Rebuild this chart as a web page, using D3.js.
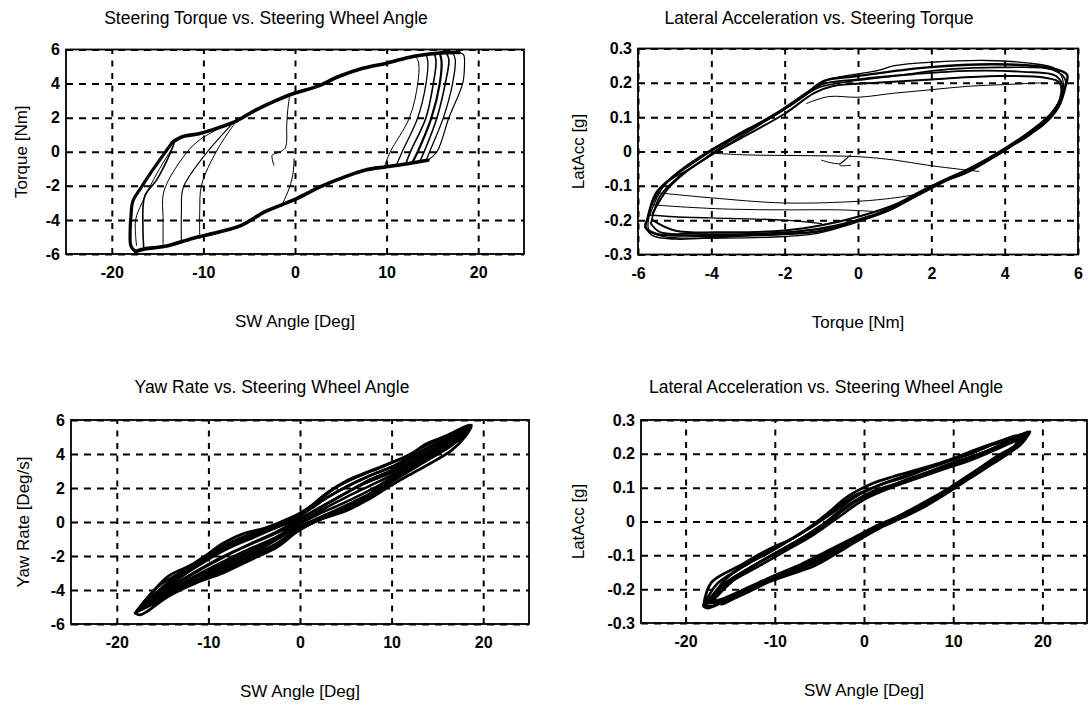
<!DOCTYPE html>
<html>
<head>
<meta charset="utf-8">
<script src="https://cdn.jsdelivr.net/npm/d3@7"></script>
<style>
  body { margin: 0; background: #fff; }
  svg { display: block; }
  text { font-family: "Liberation Sans", Arial, sans-serif; fill: #000; }
</style>
</head>
<body>
<svg id="fig" width="1092" height="709"></svg>
<script>
// ---- ticks ----
const angleTicks = [-20, -10, 0, 10, 20];
const angleTickLabels = ['-20', '-10', '0', '10', '20'];
const torqueTicks = [-6, -4, -2, 0, 2, 4, 6];
const torqueTickLabels = ['-6', '-4', '-2', '0', '2', '4', '6'];
const yawTicks = [-6, -4, -2, 0, 2, 4, 6];
const yawTickLabels = ['-6', '-4', '-2', '0', '2', '4', '6'];
const accTicks = [-0.3, -0.2, -0.1, 0, 0.1, 0.2, 0.3];
const accTickLabels = ['-0.3', '-0.2', '-0.1', '0', '0.1', '0.2', '0.3'];

// ---- panel 1: torque vs SW angle ----
const torqueUpper = [[-13.4,0.55],[-12.3,0.88],[-10.4,1.07],[-8.1,1.46],[-6.6,1.75],[-4.3,2.44],[-2.1,3.0],[0,3.45],[2.5,3.85],[4.7,4.4],[7.4,4.9],[10,5.2],[13,5.6],[16,5.8],[17.9,5.82]];
const torqueLeft = [[-13.4,0.55],[-14,0.1],[-15.7,-1.2],[-16.8,-2.1],[-17.7,-2.9],[-17.9,-3.7],[-18,-4.7],[-17.9,-5.55],[-17.4,-5.85]];
const torqueLower = [[-17.4,-5.85],[-16.4,-5.7],[-14.2,-5.55],[-11.1,-5.07],[-8.1,-4.68],[-5.8,-4.3],[-3.2,-3.5],[0,-2.8],[2.8,-2.05],[5.5,-1.46],[7.7,-1.07],[10,-0.88],[12.3,-0.7],[14.5,-0.5]];
const torqueRight1 = [[13.2,5.6],[13.5,5.2],[13.4,4],[12.5,2],[10.4,0],[9.8,-0.8]];
const torqueRight2 = [[14.3,5.72],[14.5,5.3],[14.3,4],[13.4,2],[11.7,0],[11.1,-0.75]];
const torqueRight3 = [[15.2,5.78],[15.4,5.3],[15.1,4],[14.3,2],[12.6,0],[12.1,-0.7]];
const torqueRight4 = [[15.8,5.8],[16.0,5.3],[15.8,4],[14.9,2],[13.4,0],[12.8,-0.65]];
const torqueRight5 = [[16.5,5.82],[16.8,5.4],[16.4,4],[15.5,2],[14.1,0],[13.6,-0.6]];
const torqueRight6 = [[17.2,5.84],[17.5,5.4],[17.2,4],[16.2,2],[14.7,0],[14.3,-0.55]];
const torqueRight7 = [[17.9,5.82],[18.4,5.7],[18.5,5.0],[18.3,4],[16.8,2],[15.5,0],[14.5,-0.5]];
const torqueLeft1 = [[-16.5,-5.72],[-16.6,-4.5],[-16.4,-2.6],[-15.1,-1.65],[-13.8,-0.3],[-13.2,0.5]];
const torqueLeft2 = [[-14.4,-5.58],[-14.4,-4],[-14.3,-2.3],[-11.9,-0.1],[-10.4,0.7],[-7.8,1.5]];
const torqueLeft3 = [[-12.4,-5.35],[-12.4,-3.5],[-12.2,-2.1],[-10,-0.3],[-6.7,1.72]];
const torqueLeft4 = [[-10.4,-5.1],[-10.4,-3.5],[-10.2,-1.95],[-8.5,0.1],[-6.4,1.8]];
const torqueLeft5 = [[-17.3,-5.5],[-17.4,-4],[-16.7,-3.0],[-15,-1.2],[-13.3,0.3]];
const torqueOdd1 = [[-0.6,3.25],[-0.8,2.4],[-0.9,1.6],[-1.1,0.2],[-2.1,-0.1],[-2.5,-0.2],[-2.3,-0.8]];
const torqueOdd2 = [[-0.1,-0.4],[-0.2,-1.2],[-0.6,-2.1],[-1.5,-3.2]];

// ---- panel 2: lateral acceleration vs torque ----
const latLoop1 = [[-5.75,-0.2],[-5.5,-0.12],[-5.0,-0.07],[-4.6,-0.04],[-3.96,0.005],[-3.2,0.054],[-2.36,0.10],[-1.5,0.16],[-0.94,0.205],[0,0.22],[1.9,0.245],[3.77,0.254],[5.2,0.244],[5.7,0.224],[5.66,0.19],[5.47,0.13],[5.0,0.073],[4.4,0.034],[3.96,0],[2.83,-0.063],[1.9,-0.11],[0.94,-0.166],[0,-0.2],[-0.94,-0.23],[-1.9,-0.24],[-3.3,-0.245],[-4.7,-0.245],[-5.5,-0.24],[-5.8,-0.22],[-5.75,-0.2]];
const latLoop2 = [[-5.6,-0.18],[-5.2,-0.11],[-4.7,-0.06],[-4.0,-0.01],[-3.0,0.05],[-2.0,0.11],[-1.2,0.17],[-0.7,0.19],[0.5,0.2],[2,0.21],[3.8,0.22],[5.1,0.215],[5.5,0.2],[5.5,0.15],[5.2,0.1],[4.7,0.05],[4.1,0.01],[3.0,-0.06],[2.0,-0.1],[1.0,-0.155],[0,-0.19],[-1.0,-0.215],[-2.0,-0.23],[-3.5,-0.235],[-5.0,-0.23],[-5.6,-0.2]];
const latLoop3 = [[-5.7,-0.19],[-5.3,-0.1],[-4.8,-0.05],[-4.1,0.0],[-3.1,0.06],[-2.2,0.115],[-1.3,0.18],[-0.8,0.21],[0.5,0.235],[1.0,0.25],[2,0.26],[3.5,0.265],[4.6,0.258],[5.4,0.24],[5.6,0.2],[5.45,0.14],[5.1,0.09],[4.5,0.04],[3.8,-0.005],[2.7,-0.07],[1.8,-0.115],[0.9,-0.17],[0,-0.205],[-1.2,-0.24],[-2.5,-0.25],[-4.0,-0.252],[-5.3,-0.248],[-5.7,-0.23],[-5.7,-0.19]];
const latLoop4 = [[-5.65,-0.21],[-5.4,-0.13],[-4.9,-0.075],[-4.3,-0.03],[-3.5,0.03],[-2.6,0.085],[-1.7,0.145],[-1.0,0.195],[0,0.21],[1.5,0.225],[3,0.235],[4.5,0.232],[5.4,0.22],[5.6,0.18],[5.35,0.12],[4.8,0.065],[4.2,0.02],[3.4,-0.03],[2.4,-0.085],[1.4,-0.14],[0.4,-0.185],[-0.6,-0.215],[-1.6,-0.232],[-3,-0.24],[-4.5,-0.24],[-5.4,-0.235],[-5.65,-0.21]];
const latLoop5 = [[-5.8,-0.22],[-5.6,-0.15],[-5.2,-0.09],[-4.5,-0.045],[-3.7,0.01],[-2.8,0.07],[-1.9,0.13],[-1.1,0.185],[-0.5,0.2],[1,0.22],[2.5,0.24],[4,0.245],[5.3,0.238],[5.65,0.21],[5.55,0.16],[5.25,0.11],[4.7,0.06],[4.0,0.01],[3.1,-0.045],[2.1,-0.095],[1.2,-0.15],[0.2,-0.195],[-0.8,-0.222],[-2.2,-0.238],[-3.8,-0.25],[-5.0,-0.255],[-5.6,-0.245],[-5.8,-0.22]];
const latInner1 = [[-5.5,-0.12],[-5.0,-0.125],[-4.0,-0.135],[-2.0,-0.15],[0,-0.145],[1.0,-0.135],[1.6,-0.125]];
const latInner2 = [[-5.6,-0.155],[-5.0,-0.16],[-3.5,-0.168],[-2.0,-0.17],[-0.5,-0.17],[0.5,-0.175]];
const latInner3 = [[-5.7,-0.185],[-5.0,-0.19],[-3.5,-0.195],[-2,-0.2],[-1,-0.21]];
const latZero = [[-4.0,-0.005],[-3.0,-0.01],[-1.5,-0.012],[0,-0.015],[1.0,-0.025],[1.9,-0.04],[2.8,-0.052],[3.3,-0.058]];
const latSquiggle = [[-1.0,-0.025],[-0.5,-0.035],[-0.2,-0.01],[-0.5,-0.04],[-0.2,-0.04]];
const latInnerTop = [[-1.4,0.14],[-0.8,0.16],[0,0.158],[1.0,0.17],[2.0,0.18],[3.0,0.19],[4.0,0.195],[5.0,0.2]];

// ---- panel 3: yaw rate vs SW angle ----
const yawLoop1 = [[-18,-5.36],[-16.7,-4.5],[-14.4,-3.2],[-11.4,-2.4],[-8.4,-1.25],[-6.1,-0.67],[-3.9,-0.37],[-1.6,0.12],[0.6,0.7],[2.9,1.7],[5.2,2.46],[7.4,2.95],[9.7,3.44],[11.9,3.93],[13.8,4.6],[16.1,5.1],[18,5.6],[18.7,5.7],[18,5.0],[16.5,4.2],[14.2,3.44],[11.9,2.76],[9.7,2.07],[7.4,1.3],[5.2,0.7],[2.1,0.12],[-0.1,-0.47],[-2.4,-1.45],[-5.4,-2.23],[-8.4,-3.0],[-11.4,-3.6],[-14.4,-4.38],[-17.4,-5.46],[-18,-5.36]];
const yawLoop2 = [[-17.6,-5.2],[-16,-4.3],[-14,-3.4],[-11.5,-2.6],[-9,-1.7],[-6.5,-0.95],[-4,-0.45],[-2,-0.05],[0,0.4],[2.5,1.3],[5,2.05],[7.5,2.7],[10,3.25],[12.5,3.95],[15,4.6],[17,5.2],[18.3,5.55],[17.5,4.9],[15.5,4.25],[13,3.5],[11,2.85],[9,2.05],[7,1.35],[5,0.85],[3,0.4],[1,-0.1],[-1,-0.7],[-3,-1.4],[-5.5,-2.0],[-8,-2.7],[-10.5,-3.3],[-13,-3.9],[-15.5,-4.6],[-17.6,-5.2]];
const yawLoop3 = [[-17.2,-5.0],[-15,-4.05],[-12.5,-3.05],[-10,-2.2],[-7.5,-1.35],[-5,-0.8],[-2.5,-0.3],[0,0.2],[2.5,0.95],[5,1.7],[7.5,2.45],[10,3.05],[12.5,3.8],[15,4.45],[17.5,5.3],[16.5,4.6],[14,3.85],[11.5,3.1],[9,2.25],[6.5,1.2],[4,0.55],[1.5,0.05],[-1,-0.55],[-3.5,-1.2],[-6,-1.85],[-8.5,-2.5],[-11,-3.15],[-13.5,-3.85],[-16,-4.6],[-17.2,-5.0]];
const yawLoop4 = [[-16.8,-4.9],[-14,-3.6],[-11,-2.5],[-8,-1.6],[-5,-0.9],[-2,-0.2],[1,0.5],[4,1.4],[7,2.25],[10,2.9],[13,3.8],[16,4.7],[18,5.4],[17,4.85],[14,3.9],[11,2.7],[8,1.65],[5,0.9],[2,0.2],[-1,-0.5],[-4,-1.5],[-7,-2.35],[-10,-3.1],[-13,-3.8],[-16,-4.85],[-16.8,-4.9]];
const yawLoop5 = [[-17.9,-5.3],[-15.5,-3.8],[-13,-2.95],[-10.5,-2.05],[-8,-1.3],[-5.5,-0.75],[-3,-0.3],[-1,0.2],[1.5,1.05],[4,2.05],[6.5,2.7],[9,3.25],[11.5,3.85],[14,4.55],[16.5,5.2],[18.5,5.65],[17.8,5.1],[15.5,4.35],[13,3.6],[10.5,2.7],[8.5,1.75],[6,1.0],[3.5,0.45],[1,-0.15],[-1.5,-0.95],[-4,-1.75],[-6.5,-2.4],[-9,-3.05],[-11.5,-3.55],[-14,-4.15],[-16.5,-4.95],[-17.9,-5.3]];
const yawLoop6 = [[-17.5,-5.1],[-15,-3.9],[-12,-2.8],[-9.5,-1.95],[-7,-1.2],[-4.5,-0.65],[-2,0.0],[0.5,0.55],[3,1.45],[5.5,2.2],[8,2.8],[10.5,3.35],[13,4.1],[15.5,4.8],[18,5.45],[17.2,4.95],[14.8,4.15],[12.3,3.35],[10,2.45],[7.8,1.55],[5.5,0.95],[3,0.35],[0.5,-0.3],[-2,-1.15],[-4.5,-1.9],[-7,-2.55],[-9.5,-3.15],[-12,-3.7],[-14.5,-4.3],[-17,-5.05],[-17.5,-5.1]];
const yawLoop7 = [[-17.7,-5.25],[-15,-4.2],[-12,-3.15],[-9,-2.25],[-6,-1.45],[-3,-0.75],[0,0.0],[2.5,0.75],[5,1.45],[7.5,2.1],[10,2.75],[12.5,3.5],[15,4.3],[17.8,5.35],[17,4.75],[14.5,3.95],[12,3.2],[9.5,2.4],[7,1.7],[4.5,1.05],[2,0.45],[-0.5,-0.25],[-3,-1.0],[-6,-1.7],[-9,-2.5],[-12,-3.35],[-15,-4.4],[-17.7,-5.25]];
const yawLoop8 = [[-17.3,-5.15],[-14.5,-3.95],[-11.5,-2.95],[-8.5,-2.05],[-5.5,-1.3],[-2.5,-0.55],[0.5,0.3],[3,1.1],[5.5,1.85],[8,2.5],[10.5,3.05],[13,3.75],[15.5,4.5],[18.2,5.5],[16.8,4.6],[14.3,3.75],[11.8,2.95],[9.3,2.15],[6.8,1.45],[4.3,0.8],[1.8,0.2],[-0.7,-0.45],[-3.2,-1.25],[-6.2,-2.05],[-9.2,-2.8],[-12.2,-3.45],[-15.2,-4.3],[-17.3,-5.15]];

// ---- panel 4: lateral acceleration vs SW angle ----
const accLoop1 = [[-18,-0.25],[-17.1,-0.18],[-13.9,-0.13],[-10.8,-0.084],[-7.6,-0.044],[-4.5,0.015],[-1.8,0.074],[1,0.113],[3.3,0.133],[6.5,0.157],[9.6,0.182],[12.4,0.211],[15.1,0.236],[17.5,0.256],[18.6,0.265],[17.5,0.231],[15.1,0.192],[12.7,0.143],[10,0.103],[7.3,0.054],[4.1,0.015],[1,-0.025],[-1.8,-0.064],[-4.5,-0.103],[-7.6,-0.143],[-10.8,-0.172],[-13.9,-0.211],[-17.5,-0.256],[-18,-0.25]];
const accLoop2 = [[-17.6,-0.24],[-16,-0.19],[-13,-0.14],[-10,-0.095],[-7,-0.055],[-4,0.0],[-1,0.06],[2,0.095],[5,0.125],[8,0.15],[11,0.18],[14,0.21],[16.5,0.235],[18,0.25],[17,0.22],[14.5,0.18],[12,0.135],[9.5,0.09],[7,0.05],[4.5,0.02],[2,-0.01],[-1,-0.05],[-4,-0.09],[-7,-0.13],[-10,-0.16],[-13,-0.195],[-16,-0.23],[-17.6,-0.24]];
const accLoop3 = [[-17.2,-0.235],[-15,-0.175],[-12,-0.125],[-9,-0.08],[-6,-0.035],[-3,0.02],[0,0.075],[3,0.105],[6,0.135],[9,0.16],[12,0.19],[15,0.22],[17.8,0.25],[16.5,0.215],[14,0.175],[11.5,0.125],[9,0.085],[6.5,0.045],[4,0.01],[1.5,-0.02],[-1.5,-0.06],[-4.5,-0.1],[-7.5,-0.14],[-10.5,-0.17],[-13.5,-0.205],[-16.5,-0.24],[-17.2,-0.235]];
const accLoop4 = [[-16.8,-0.23],[-14,-0.16],[-11,-0.11],[-8,-0.065],[-5,-0.015],[-2,0.045],[1,0.09],[4,0.115],[7,0.145],[10,0.175],[13,0.2],[16,0.235],[18.3,0.255],[17.5,0.225],[15,0.185],[12.5,0.145],[10,0.1],[7.5,0.06],[5,0.025],[2,-0.005],[-1,-0.045],[-4,-0.085],[-7,-0.125],[-10,-0.16],[-13,-0.2],[-16,-0.245],[-16.8,-0.23]];
const accLoop5 = [[-17.9,-0.245],[-16.5,-0.185],[-14,-0.14],[-11.5,-0.1],[-9,-0.065],[-6.5,-0.025],[-4,0.02],[-1.5,0.07],[1,0.1],[3.5,0.125],[6,0.148],[8.5,0.17],[11,0.195],[13.5,0.22],[16,0.24],[18.3,0.26],[17.2,0.228],[15,0.195],[12.8,0.155],[10.5,0.112],[8,0.07],[5.5,0.035],[3,0.005],[0.5,-0.03],[-2,-0.068],[-4.5,-0.108],[-7,-0.14],[-9.5,-0.165],[-12,-0.188],[-14.5,-0.215],[-17,-0.25],[-17.9,-0.245]];
const accLoop6 = [[-17.4,-0.24],[-15.5,-0.17],[-13,-0.125],[-10.5,-0.09],[-8,-0.05],[-5.5,-0.01],[-3,0.035],[-0.5,0.08],[2,0.11],[4.5,0.13],[7,0.155],[9.5,0.178],[12,0.2],[14.5,0.228],[17.2,0.252],[16.8,0.22],[14.3,0.18],[11.8,0.138],[9.3,0.095],[6.8,0.058],[4.3,0.022],[1.8,-0.012],[-0.7,-0.048],[-3.2,-0.09],[-5.7,-0.125],[-8.2,-0.15],[-10.7,-0.17],[-13.2,-0.2],[-15.7,-0.232],[-17.4,-0.24]];
const accLoop7 = [[-17.5,-0.24],[-15,-0.18],[-12,-0.135],[-9,-0.09],[-6,-0.045],[-3,0.01],[0,0.065],[3,0.1],[6,0.128],[9,0.155],[12,0.182],[15,0.215],[17.8,0.245],[16.9,0.215],[14.4,0.17],[11.9,0.128],[9.4,0.085],[6.9,0.045],[4.4,0.012],[1.9,-0.018],[-0.6,-0.055],[-3.1,-0.095],[-5.6,-0.132],[-8.1,-0.155],[-10.6,-0.178],[-13.1,-0.21],[-15.6,-0.238],[-17.5,-0.24]];

const svg = d3.select('#fig');
svg.append('rect').attr('width', 1092).attr('height', 709).attr('fill', '#fff');

const panels = [
  {
    box: {left: 66, right: 524, top: 49.5, bottom: 254},
    xDomain: [-25, 25], yDomain: [-6, 6],
    xTicks: angleTicks, xLabels: angleTickLabels,
    yTicks: torqueTicks, yLabels: torqueTickLabels,
    title: 'Steering Torque vs. Steering Wheel Angle', titleX: 266, titleY: 24,
    xTitle: 'SW Angle [Deg]', yTitle: 'Torque [Nm]', yTitleX: 21,
    series: [
      {d: torqueUpper, w: 3.6}, {d: torqueLeft, w: 3.2}, {d: torqueLower, w: 3.6},
      {d: torqueRight1, w: 1}, {d: torqueRight2, w: 1.3}, {d: torqueRight3, w: 1.6},
      {d: torqueRight4, w: 2.2}, {d: torqueRight5, w: 1.6}, {d: torqueRight6, w: 1.3},
      {d: torqueRight7, w: 1.2},
      {d: torqueLeft1, w: 1.6}, {d: torqueLeft2, w: 1}, {d: torqueLeft3, w: 1.1},
      {d: torqueLeft4, w: 1}, {d: torqueLeft5, w: 1},
      {d: torqueOdd1, w: 1}, {d: torqueOdd2, w: 1}
    ]
  },
  {
    box: {left: 638, right: 1078, top: 48.5, bottom: 254.5},
    xDomain: [-6, 6], yDomain: [-0.3, 0.3],
    xTicks: torqueTicks, xLabels: torqueTickLabels,
    yTicks: accTicks, yLabels: accTickLabels,
    title: 'Lateral Acceleration vs. Steering Torque', titleX: 819, titleY: 24,
    xTitle: 'Torque [Nm]', yTitle: 'LatAcc [g]', yTitleX: 578,
    series: [
      {d: latLoop1, w: 2.4}, {d: latLoop2, w: 2}, {d: latLoop3, w: 1.3},
      {d: latLoop4, w: 1.8}, {d: latLoop5, w: 1.6},
      {d: latInner1, w: 1}, {d: latInner2, w: 1}, {d: latInner3, w: 1.3},
      {d: latZero, w: 1}, {d: latSquiggle, w: 1}, {d: latInnerTop, w: 1}
    ]
  },
  {
    box: {left: 71, right: 529, top: 420, bottom: 624},
    xDomain: [-25, 25], yDomain: [-6, 6],
    xTicks: angleTicks, xLabels: angleTickLabels,
    yTicks: yawTicks, yLabels: yawTickLabels,
    title: 'Yaw Rate vs. Steering Wheel Angle', titleX: 272, titleY: 393,
    xTitle: 'SW Angle [Deg]', yTitle: 'Yaw Rate [Deg/s]', yTitleX: 23,
    series: [
      {d: yawLoop1, w: 2.8}, {d: yawLoop2, w: 2.8}, {d: yawLoop3, w: 2.8},
      {d: yawLoop4, w: 2.4}, {d: yawLoop5, w: 2.6}, {d: yawLoop6, w: 2.6},
      {d: yawLoop7, w: 2.6}, {d: yawLoop8, w: 2.4}
    ]
  },
  {
    box: {left: 641, right: 1087, top: 420, bottom: 623},
    xDomain: [-25, 25], yDomain: [-0.3, 0.3],
    xTicks: angleTicks, xLabels: angleTickLabels,
    yTicks: accTicks, yLabels: accTickLabels,
    title: 'Lateral Acceleration vs. Steering Wheel Angle', titleX: 826, titleY: 393,
    xTitle: 'SW Angle [Deg]', yTitle: 'LatAcc [g]', yTitleX: 578,
    series: [
      {d: accLoop1, w: 2.8}, {d: accLoop2, w: 2.8}, {d: accLoop3, w: 2.8},
      {d: accLoop4, w: 2.4}, {d: accLoop5, w: 2.6}, {d: accLoop6, w: 2.6},
      {d: accLoop7, w: 2.6}
    ]
  }
];

panels.forEach((p, i) => {
  const b = p.box;
  const w = b.right - b.left;
  const h = b.bottom - b.top;
  const x = d3.scaleLinear().domain(p.xDomain).range([0, w]);
  const y = d3.scaleLinear().domain(p.yDomain).range([h, 0]);

  const g = svg.append('g').attr('transform', `translate(${b.left},${b.top})`);

  // clip to the plot box
  svg.append('clipPath').attr('id', 'clip' + i)
    .append('rect').attr('x', b.left).attr('y', b.top).attr('width', w).attr('height', h);

  // dashed grid
  const xGrid = d3.axisBottom(x).tickValues(p.xTicks).tickSize(-h).tickFormat('');
  const yGrid = d3.axisLeft(y).tickValues(p.yTicks).tickSize(-w).tickFormat('');
  g.append('g').attr('transform', `translate(0,${h})`).call(xGrid)
    .call(s => s.select('.domain').remove())
    .selectAll('line').attr('stroke', '#000').attr('stroke-width', 2).attr('stroke-dasharray', '6,6.5');
  g.append('g').call(yGrid)
    .call(s => s.select('.domain').remove())
    .selectAll('line').attr('stroke', '#000').attr('stroke-width', 2).attr('stroke-dasharray', '7,6');

  // data curves
  const line = d3.line()
    .x(d => x(d[0]))
    .y(d => y(d[1]))
    .curve(d3.curveCatmullRom.alpha(0.5));
  const data = svg.append('g').attr('clip-path', `url(#clip${i})`)
    .append('g').attr('transform', `translate(${b.left},${b.top})`);
  data.selectAll('path').data(p.series).enter().append('path')
    .attr('d', s => line(s.d))
    .attr('fill', 'none')
    .attr('stroke', '#000')
    .attr('stroke-width', s => s.w)
    .attr('stroke-linejoin', 'round')
    .attr('stroke-linecap', 'round');

  // box
  g.append('rect').attr('width', w).attr('height', h)
    .attr('fill', 'none').attr('stroke', '#000').attr('stroke-width', 1.8);

  // tick labels
  const xAxis = d3.axisBottom(x).tickValues(p.xTicks)
    .tickFormat((d, k) => p.xLabels[k]).tickSize(0).tickPadding(13);
  g.append('g').attr('transform', `translate(0,${h})`).call(xAxis)
    .call(s => s.select('.domain').remove())
    .selectAll('text')
    .attr('font-family', '"Liberation Sans", Arial, sans-serif')
    .attr('font-size', 16).attr('font-weight', 'bold').attr('fill', '#000');
  const yAxis = d3.axisLeft(y).tickValues(p.yTicks)
    .tickFormat((d, k) => p.yLabels[k]).tickSize(0).tickPadding(6);
  g.append('g').call(yAxis)
    .call(s => s.select('.domain').remove())
    .selectAll('text')
    .attr('font-family', '"Liberation Sans", Arial, sans-serif')
    .attr('font-size', 16).attr('font-weight', 'bold').attr('fill', '#000');

  // titles
  svg.append('text').attr('x', p.titleX).attr('y', p.titleY)
    .attr('text-anchor', 'middle').attr('font-size', 17.5).text(p.title);
  svg.append('text').attr('x', b.left + w / 2).attr('y', b.bottom + 73)
    .attr('text-anchor', 'middle').attr('font-size', 17).text(p.xTitle);
  svg.append('text')
    .attr('transform', `translate(${p.yTitleX},${b.top + h / 2}) rotate(-90)`)
    .attr('text-anchor', 'middle').attr('dominant-baseline', 'central')
    .attr('font-size', 17).text(p.yTitle);
});
</script>
</body>
</html>
